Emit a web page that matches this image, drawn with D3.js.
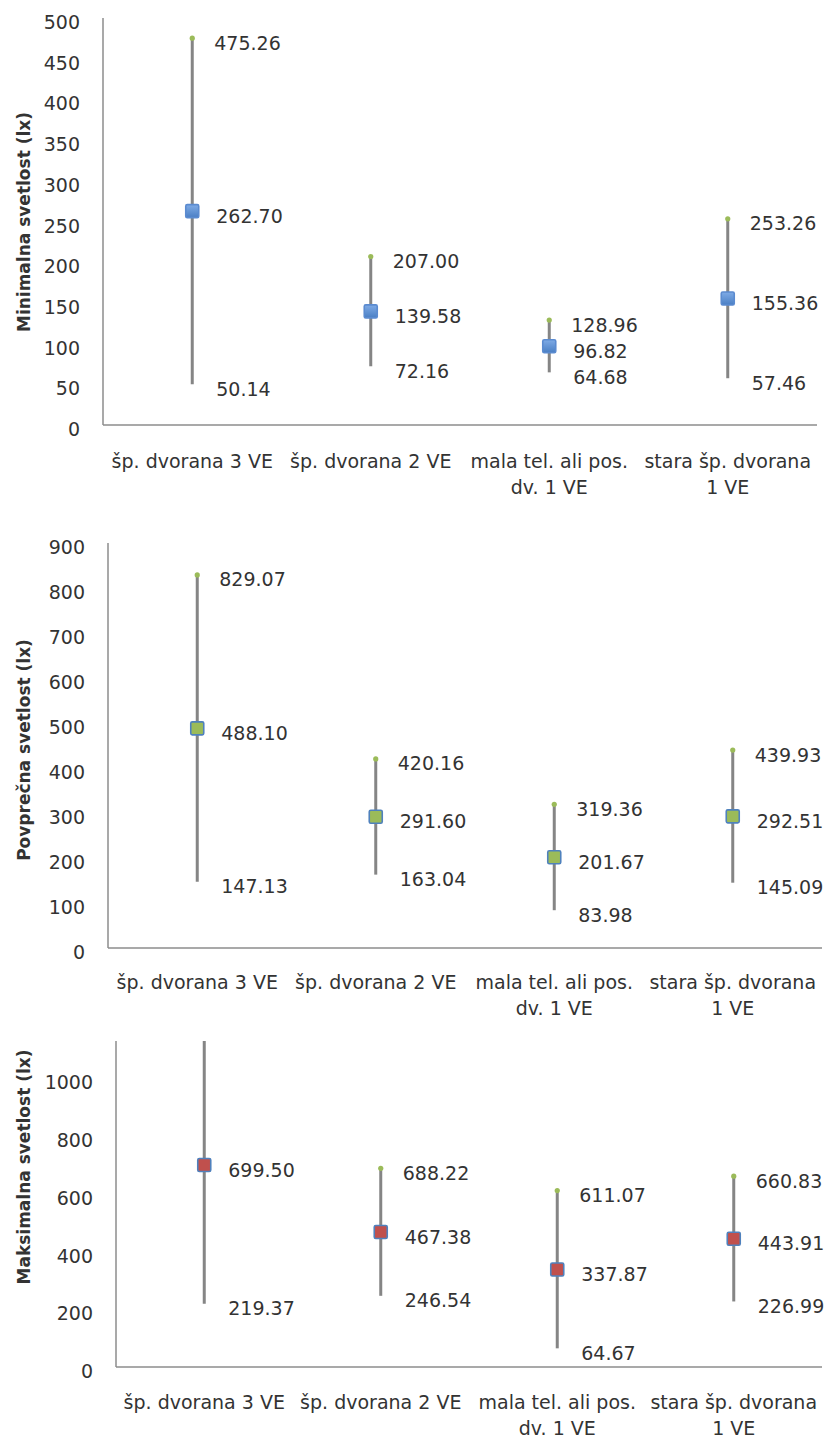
<!DOCTYPE html>
<html>
<head>
<meta charset="utf-8">
<script src="https://cdn.jsdelivr.net/npm/d3@7"></script>
<style>
  html, body { margin: 0; padding: 0; background: #fff; }
  svg { display: block; }
  text { font-family: "DejaVu Sans", sans-serif; fill: #333; }
</style>
</head>
<body>
<svg id="chart" width="827" height="1439"></svg>
<script>
// ---------- data ----------
const categories = ["šp. dvorana 3 VE", "šp. dvorana 2 VE", "mala tel. ali pos. dv. 1 VE", "stara šp. dvorana 1 VE"];

const minHigh = [475.26, 207.00, 128.96, 253.26];
const minMid  = [262.70, 139.58, 96.82, 155.36];
const minLow  = [50.14, 72.16, 64.68, 57.46];

const avgHigh = [829.07, 420.16, 319.36, 439.93];
const avgMid  = [488.10, 291.60, 201.67, 292.51];
const avgLow  = [147.13, 163.04, 83.98, 145.09];

const maxHigh = [1179.63, 688.22, 611.07, 660.83];
const maxMid  = [699.50, 467.38, 337.87, 443.91];
const maxLow  = [219.37, 246.54, 64.67, 226.99];

const minTicks = [0, 50, 100, 150, 200, 250, 300, 350, 400, 450, 500];
const avgTicks = [0, 100, 200, 300, 400, 500, 600, 700, 800, 900];
const maxTicks = [0, 200, 400, 600, 800, 1000];

const titles = ["Minimalna svetlost (lx)", "Povprečna svetlost (lx)", "Maksimalna svetlost (lx)"];

// ---------- layout ----------
const panels = [
  { title: titles[0], high: minHigh, mid: minMid, low: minLow, ticks: minTicks, dmax: 500,
    x0: 103, x1: 817, yB: 425, yT: 18, clipTop: 0, fill: "url(#gBlue)", stroke: "#5b8bd0", titleY: 222, catY: 461 },
  { title: titles[1], high: avgHigh, mid: avgMid, low: avgLow, ticks: avgTicks, dmax: 900,
    x0: 108, x1: 822, yB: 948, yT: 543, clipTop: 530, fill: "#9BBB59", stroke: "#4F81BD", titleY: 750, catY: 982 },
  { title: titles[2], high: maxHigh, mid: maxMid, low: maxLow, ticks: maxTicks, dmax: 1200,
    x0: 116, x1: 822, yB: 1367, yT: 1020.5, clipTop: 1041, fill: "#C0504D", stroke: "#4F81BD", titleY: 1167, catY: 1402 }
];

const svg = d3.select("#chart");
const defs = svg.append("defs");
const grad = defs.append("linearGradient").attr("id", "gBlue").attr("x1", 0).attr("y1", 0).attr("x2", 0).attr("y2", 1);
grad.append("stop").attr("offset", "0%").attr("stop-color", "#7fabe6");
grad.append("stop").attr("offset", "100%").attr("stop-color", "#4a7fc4");

const fmt = d3.format(".2f");

function wrapLines(text, maxW, measurer) {
  const words = text.split(" ");
  const lines = [];
  let cur = "";
  words.forEach(w => {
    const test = cur ? cur + " " + w : w;
    measurer.text(test);
    if (measurer.node().getComputedTextLength() > maxW && cur) {
      lines.push(cur);
      cur = w;
    } else cur = test;
  });
  if (cur) lines.push(cur);
  return lines;
}

const measurer = svg.append("text").attr("font-size", 19).attr("x", -1000).attr("y", -1000);

panels.forEach((p, i) => {
  const g = svg.append("g");
  const clipId = "clip" + i;
  defs.append("clipPath").attr("id", clipId)
    .append("rect").attr("x", 0).attr("y", p.clipTop).attr("width", 827).attr("height", p.yB + 100 - p.clipTop);

  const x = d3.scaleBand().domain(categories).range([p.x0, p.x1]);
  const y = d3.scaleLinear().domain([0, p.dmax]).range([p.yB, p.yT]);
  const cx = c => x(c) + x.bandwidth() / 2;

  // y axis labels
  const yAxis = d3.axisLeft(y).tickValues(p.ticks).tickSize(0).tickPadding(23).tickFormat(d3.format("d"));
  const ag = g.append("g").attr("transform", `translate(${p.x0},0)`).call(yAxis);
  ag.select(".domain").remove();
  ag.selectAll("text").attr("font-size", 19).attr("font-family", "DejaVu Sans")
    .attr("fill", "#333").attr("transform", "translate(0,4.5)");

  // axis lines
  const topY = Math.max(p.yT, p.clipTop);
  g.append("line").attr("x1", p.x0).attr("x2", p.x0).attr("y1", topY).attr("y2", p.yB)
    .attr("stroke", "#8c8c8c").attr("stroke-width", 1.5);
  g.append("line").attr("x1", p.x0).attr("x2", p.x1).attr("y1", p.yB).attr("y2", p.yB)
    .attr("stroke", "#8c8c8c").attr("stroke-width", 1.5);

  // y title
  svg.append("text").attr("transform", `translate(24,${p.titleY}) rotate(-90)`)
    .attr("text-anchor", "middle").attr("dominant-baseline", "central")
    .attr("font-size", 17).attr("font-weight", "bold").attr("fill", "#222").text(p.title);

  // category labels
  categories.forEach(c => {
    const lines = wrapLines(c, x.bandwidth(), measurer);
    const t = g.append("text").attr("text-anchor", "middle").attr("font-size", 19)
      .attr("dominant-baseline", "central");
    lines.forEach((ln, k) => {
      t.append("tspan").attr("x", cx(c)).attr("y", p.catY + k * 26).text(ln);
    });
  });

  const mg = g.append("g").attr("clip-path", `url(#${clipId})`);
  const idx = d3.range(categories.length);

  // high-low lines
  mg.selectAll("line.hl").data(idx).join("line").attr("class", "hl")
    .attr("x1", d => cx(categories[d])).attr("x2", d => cx(categories[d]))
    .attr("y1", d => y(p.high[d])).attr("y2", d => y(p.low[d]))
    .attr("stroke", "#858585").attr("stroke-width", 3);

  // high markers
  mg.selectAll("circle.hi").data(idx).join("circle").attr("class", "hi")
    .attr("cx", d => cx(categories[d])).attr("cy", d => y(p.high[d])).attr("r", 2.6)
    .attr("fill", "#9BBB59");

  // mid markers
  mg.selectAll("rect.mid").data(idx).join("rect").attr("class", "mid")
    .attr("x", d => cx(categories[d]) - 6.5).attr("y", d => y(p.mid[d]) - 6.5)
    .attr("width", 13).attr("height", 13).attr("rx", 1.5)
    .attr("fill", p.fill).attr("stroke", p.stroke).attr("stroke-width", 1.6);

  // labels
  const lab = (arr, dx) => mg.append("g").selectAll("text").data(idx).join("text")
    .attr("x", d => cx(categories[d]) + dx).attr("y", d => y(arr[d]) + 4.5)
    .attr("dominant-baseline", "central").attr("font-size", 19).attr("fill", "#333")
    .text(d => fmt(arr[d]));
  lab(p.high, 22);
  lab(p.mid, 24);
  lab(p.low, 24);
});
measurer.remove();
</script>
</body>
</html>
